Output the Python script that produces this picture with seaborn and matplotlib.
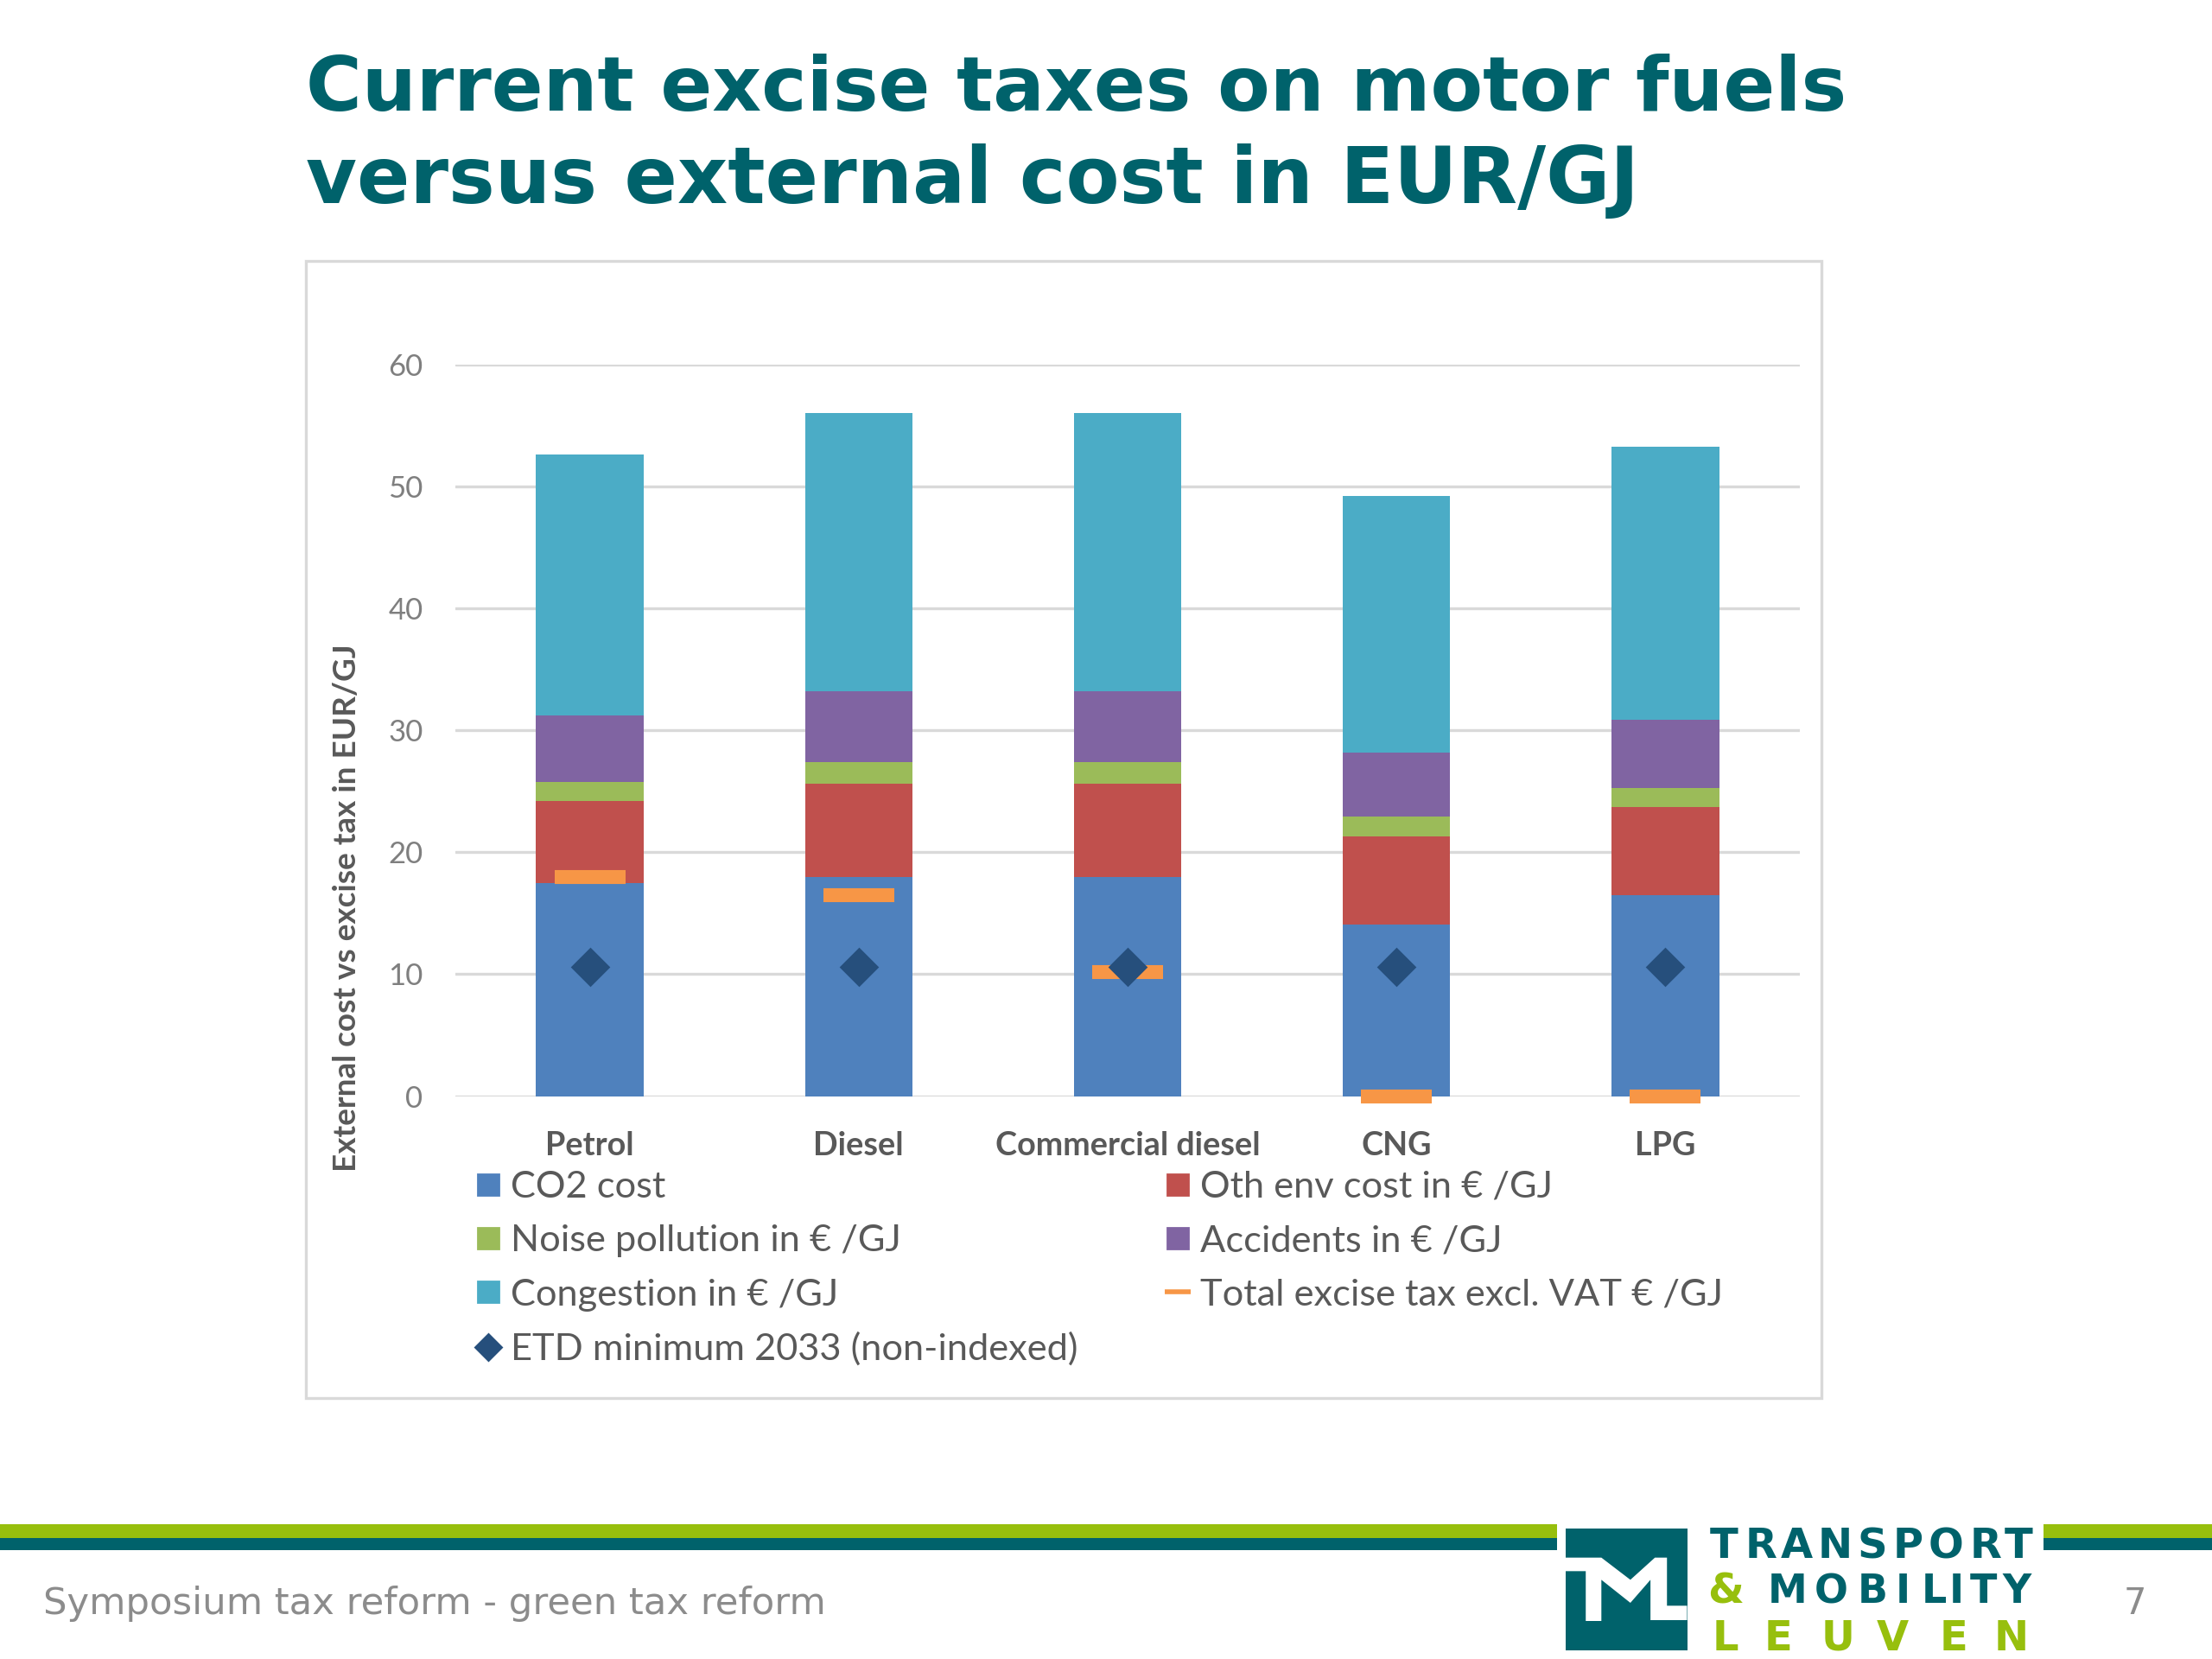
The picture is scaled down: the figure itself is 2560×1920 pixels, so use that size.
import pandas as pd
import matplotlib
matplotlib.use('Agg')
import matplotlib.pyplot as plt
from matplotlib.lines import Line2D
from matplotlib.patches import Rectangle, Polygon
import seaborn as sns

# values
fuels = ['Petrol', 'Diesel', 'Commercial diesel', 'CNG', 'LPG']
co2_cost = [17.5, 18.0, 18.0, 14.1, 16.5]
oth_env = [6.7, 7.6, 7.6, 7.2, 7.2]
noise = [1.6, 1.8, 1.8, 1.6, 1.6]
accidents = [5.4, 5.8, 5.8, 5.3, 5.6]
congestion = [21.4, 22.8, 22.8, 21.0, 22.4]
excise_tax = [18.0, 16.5, 10.2, 0.0, 0.0]
etd_minimum = [10.6, 10.6, 10.6, 10.6, 10.6]

series_labels = ['CO2 cost', 'Oth env cost in € /GJ', 'Noise pollution in € /GJ',
                 'Accidents in € /GJ', 'Congestion in € /GJ']
series_values = [co2_cost, oth_env, noise, accidents, congestion]
series_colors = ['#4f81bd', '#c0504d', '#9bbb59', '#8064a2', '#4bacc6']
tax_label = 'Total excise tax excl. VAT € /GJ'
etd_label = 'ETD minimum 2033 (non-indexed)'
tax_color = '#f79646'
etd_color = '#264f7c'
teal = '#00626b'
lime = '#97bf0d'
grey_txt = '#595959'

W, H = 2560, 1920

sns.set_theme(style='white')
plt.rcParams['font.family'] = ['Lato', 'DejaVu Sans']

fig = plt.figure(figsize=(12.8, 9.6), dpi=200)


def fx(px):
    return px / W


def fy(py):
    return 1 - py / H


# heading
fig.text(fx(354), fy(128), 'Current excise taxes on motor fuels', family='DejaVu Sans',
         weight='bold', fontsize=31.8, color=teal, va='baseline')
fig.text(fx(354), fy(235), 'versus external cost in EUR/GJ', family='DejaVu Sans',
         weight='bold', fontsize=32.6, color=teal, va='baseline')

# chart frame
fig.add_artist(Rectangle((fx(354), fy(1618)), fx(1754), (1618 - 302) / H, fill=False,
                         edgecolor='#d9d9d9', linewidth=1.2, transform=fig.transFigure))

# axes sits on the plot area of the pasted chart
ax = fig.add_axes([fx(527), fy(1268.5), fx(1556), (1268.5 - 422) / H])

df = pd.DataFrame({'fuel': fuels})
bottom = [0.0] * len(fuels)
for label, vals, col in zip(series_labels, series_values, series_colors):
    df[label] = vals
    sns.barplot(data=df, x='fuel', y=label, color=col, width=0.4, bottom=bottom,
                saturation=1, ax=ax, zorder=3, linewidth=0)
    bottom = [b + v for b, v in zip(bottom, vals)]

df['tax'] = excise_tax
df['etd'] = etd_minimum
sns.scatterplot(data=df, x='fuel', y='tax', marker='_', s=870, color=tax_color,
                linewidth=5.8, ax=ax, zorder=4, clip_on=False)
sns.scatterplot(data=df, x='fuel', y='etd', marker='D', s=135, color=etd_color,
                linewidth=0, ax=ax, zorder=5)

ax.set_xlim(-0.5, 4.5)
ax.set_ylim(0, 60)
ax.set_yticks(range(0, 61, 10))
ax.yaxis.grid(True, color='#d9d9d9', linewidth=1.2)
ax.set_axisbelow(True)
ax.xaxis.grid(False)
sns.despine(ax=ax, left=True, top=True, right=True, bottom=True)
ax.set_xlabel('')
ax.set_ylabel('')
ax.patch.set_alpha(0)
ax.tick_params(axis='y', length=0, pad=13.5, labelsize=12.5, labelcolor='#7f7f7f')
ax.tick_params(axis='x', length=0, pad=14.5, labelsize=13.6, labelcolor=grey_txt)
for t in ax.get_xticklabels():
    t.set_fontweight('bold')

fig.text(fx(401), fy(1051), 'External cost vs excise tax in EUR/GJ', rotation=90, ha='center',
         va='center', fontsize=13.3, weight='bold', color=grey_txt)


# legend, two columns like the original
def sq(col):
    return Line2D([], [], linestyle='none', marker='s', markersize=8.8, color=col)


left_handles = [sq(series_colors[0]), sq(series_colors[2]), sq(series_colors[4]),
                Line2D([], [], linestyle='none', marker='D', markersize=7.5, color=etd_color)]
left_labels = [series_labels[0], series_labels[2], series_labels[4], etd_label]
right_handles = [sq(series_colors[1]), sq(series_colors[3]),
                 Line2D([], [], linestyle='none', marker='_', markersize=10.8,
                        markeredgewidth=2, color=tax_color)]
right_labels = [series_labels[1], series_labels[3], tax_label]

for handles, labels, x0 in [(left_handles, left_labels, 543), (right_handles, right_labels, 1341)]:
    leg = fig.legend(handles, labels, loc='upper left', bbox_to_anchor=(fx(x0), fy(1355)),
                     frameon=False, fontsize=15.6, labelspacing=0.56, handlelength=1.0,
                     handletextpad=0.1, borderpad=0, borderaxespad=0, labelcolor=grey_txt)

# footer bands
for x0, x1 in [(0, 1802), (2365, 2560)]:
    fig.add_artist(Rectangle((fx(x0), fy(1780)), fx(x1 - x0), 16 / H, color=lime, lw=0,
                             transform=fig.transFigure))
    fig.add_artist(Rectangle((fx(x0), fy(1794)), fx(x1 - x0), 14 / H, color=teal, lw=0,
                             transform=fig.transFigure))

fig.text(fx(50), fy(1856), 'Symposium tax reform - green tax reform', family='DejaVu Sans',
         fontsize=15.6, color='#8c8c8c', va='center')
fig.text(fx(2471), fy(1856), '7', family='DejaVu Sans', fontsize=15, color='#8c8c8c',
         ha='center', va='center')

# logo block
fig.add_artist(Rectangle((fx(1812), fy(1910)), fx(141), 141 / H, color=teal, lw=0,
                         transform=fig.transFigure))
m_zoom = [(120, 188), (200, 188), (265, 265), (320, 188), (347, 188), (347, 355), (392, 355),
          (392, 405), (310, 405), (310, 265), (265, 345), (200, 265), (200, 408), (165, 408),
          (165, 235), (120, 235)]
m_pts = [(fx(1750 + a / 1.936), fy(1740 + b / 3)) for a, b in m_zoom]
fig.add_artist(Polygon(m_pts, closed=True, color='white', lw=0, transform=fig.transFigure))


def logo_word(word, centers, base, col, size=17.3):
    for letter, xp in zip(word, centers):
        fig.text(fx(xp), fy(base), letter, family='DejaVu Sans', weight='bold', fontsize=size,
                 color=col, ha='center', va='baseline')


logo_word('TRANSPORT', [1995, 2038, 2079, 2124, 2167, 2208, 2252, 2298, 2336], 1803, teal)
logo_word('&', [1997], 1855, lime)
logo_word('MOBILITY', [2069, 2119, 2167, 2202, 2238, 2264, 2295, 2334], 1855, teal, size=16.5)
logo_word('LEUVEN', [1997, 2058, 2127, 2190, 2261, 2328], 1910, lime)

fig.savefig('out.png', dpi=200, facecolor='white')
